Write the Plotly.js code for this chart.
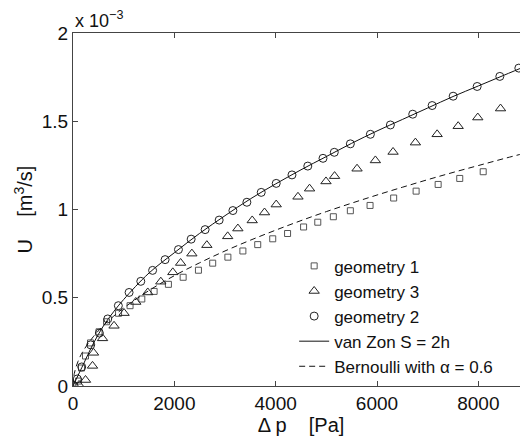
<!DOCTYPE html>
<html><head><meta charset="utf-8">
<script src="https://cdn.plot.ly/plotly-3.0.1.min.js"></script>
<style>html,body{margin:0;padding:0;overflow:hidden;background:#fff}</style>
</head><body><div id="chart" style="width:530px;height:436px"></div>
<script>
// Delta p [Pa] and U [1e-3 m^3/s]
const dpGeom1 = [20,109,168,247,346,514,662,899,1126,1358,1601,1883,2174,2476,2757,3057,3353,3646,3942,4235,4551,4831,5138,5474,5863,6329,6772,7207,7633,8096];
const uGeom1  = [0.0,0.028,0.102,0.170,0.244,0.307,0.364,0.412,0.455,0.493,0.536,0.576,0.616,0.656,0.696,0.730,0.765,0.801,0.834,0.864,0.901,0.928,0.959,0.993,1.023,1.065,1.104,1.142,1.176,1.214];

const dpGeom3 = [119,247,385,405,583,810,1008,1239,1476,1733,1970,2124,2346,2642,3053,3254,3537,3780,4011,4440,4669,4993,5163,5606,5968,6317,6758,7187,7602,7989,8438];
const uGeom3  = [0.006,0.034,0.114,0.188,0.270,0.341,0.413,0.476,0.530,0.591,0.644,0.697,0.750,0.798,0.848,0.892,0.938,0.983,1.028,1.072,1.118,1.159,1.189,1.231,1.278,1.326,1.379,1.426,1.472,1.521,1.572];

const dpGeom2 = [20,85,172,350,520,686,895,1107,1338,1571,1818,2081,2332,2608,2885,3156,3432,3715,4011,4322,4634,4934,5157,5474,5869,6264,6705,7088,7503,7977,8424,8799];
const uGeom2  = [0.002,0.040,0.108,0.233,0.300,0.380,0.455,0.530,0.593,0.655,0.716,0.773,0.832,0.886,0.940,0.994,1.041,1.097,1.148,1.196,1.246,1.290,1.324,1.372,1.426,1.479,1.540,1.589,1.642,1.697,1.754,1.801];

const dpVanZon = [0,100,200,400,600,800,1000,1500,2000,2500,3000,3500,4000,4500,5000,5500,6000,6500,7000,7500,8000,8500,9000];
const uVanZon  = [0,0.06,0.12,0.24,0.34,0.42,0.49,0.64,0.755,0.865,0.965,1.06,1.145,1.225,1.30,1.375,1.445,1.51,1.575,1.64,1.70,1.76,1.82];

const dpBern = [0,25,100,200,400,600,800,1000,1500,2000,2500,3000,3500,4000,4500,5000,5500,6000,6500,7000,7500,8000,8500,9000];
const uBern  = [0,0.07,0.14,0.198,0.279,0.342,0.395,0.442,0.541,0.625,0.698,0.765,0.826,0.883,0.937,0.988,1.036,1.082,1.126,1.169,1.21,1.249,1.288,1.325];

const xTicks = [0,2000,4000,6000,8000];
const yTicks = [0,0.5,1,1.5,2];
const names = ['geometry 1','geometry 3','geometry 2','van Zon S = 2h','Bernoulli with \u03b1 = 0.6'];

const FONT = 'Liberation Sans, Arial, sans-serif';
const traces = [
  {x: dpGeom1, y: uGeom1, name: names[0], mode: 'markers', type: 'scatter',
   marker: {symbol: 'square-open', size: 6, color: '#555', line: {width: 1}}},
  {x: dpGeom3, y: uGeom3, name: names[1], mode: 'markers', type: 'scatter',
   marker: {symbol: 'triangle-up-open', size: 9, color: '#222', line: {width: 1}}},
  {x: dpGeom2, y: uGeom2, name: names[2], mode: 'markers', type: 'scatter',
   marker: {symbol: 'circle-open', size: 8, color: '#222', line: {width: 1}}},
  {x: dpVanZon, y: uVanZon, name: names[3], mode: 'lines', type: 'scatter',
   line: {color: '#111', width: 1, shape: 'spline'}},
  {x: dpBern, y: uBern, name: names[4], mode: 'lines', type: 'scatter',
   line: {color: '#111', width: 1, dash: '6px,4px', shape: 'spline'}}
];

const axisCommon = {
  showgrid: false, zeroline: false, showline: true, linecolor: '#444', linewidth: 1,
  ticks: 'inside', ticklen: 5, tickcolor: '#444', mirror: 'ticks',
  tickfont: {family: FONT, size: 19, color: '#111'}
};

const layout = {
  width: 530, height: 436,
  margin: {l: 73, r: 1, t: 33, b: 50},
  paper_bgcolor: '#fff', plot_bgcolor: '#fff',
  font: {family: FONT, color: '#111'},
  showlegend: true,
  legend: {x: 0.485, y: 0.39, xanchor: 'left', yanchor: 'top', bgcolor: 'rgba(0,0,0,0)',
           font: {family: FONT, size: 17, color: '#111'}, tracegroupgap: 0},
  xaxis: Object.assign({}, axisCommon, {
    range: [0, 9000], tickvals: xTicks, ticktext: xTicks.map(String),
    title: {text: '\u0394 p    [Pa]', font: {family: FONT, size: 20, color: '#111'}, standoff: 0}
  }),
  yaxis: Object.assign({}, axisCommon, {
    range: [0, 2], tickvals: yTicks, ticktext: yTicks.map(String),
    title: {text: 'U    [m<sup>3</sup>/s]', font: {family: FONT, size: 20, color: '#111'}, standoff: 3}
  }),
  annotations: [{
    xref: 'paper', yref: 'paper', x: 0, y: 1, xanchor: 'left', yanchor: 'bottom', yshift: 0, xshift: 0,
    showarrow: false, text: 'x 10<sup>\u22123</sup>', font: {family: FONT, size: 18, color: '#111'}
  }]
};

Plotly.newPlot('chart', traces, layout, {displayModeBar: false, staticPlot: true});
</script></body></html>
